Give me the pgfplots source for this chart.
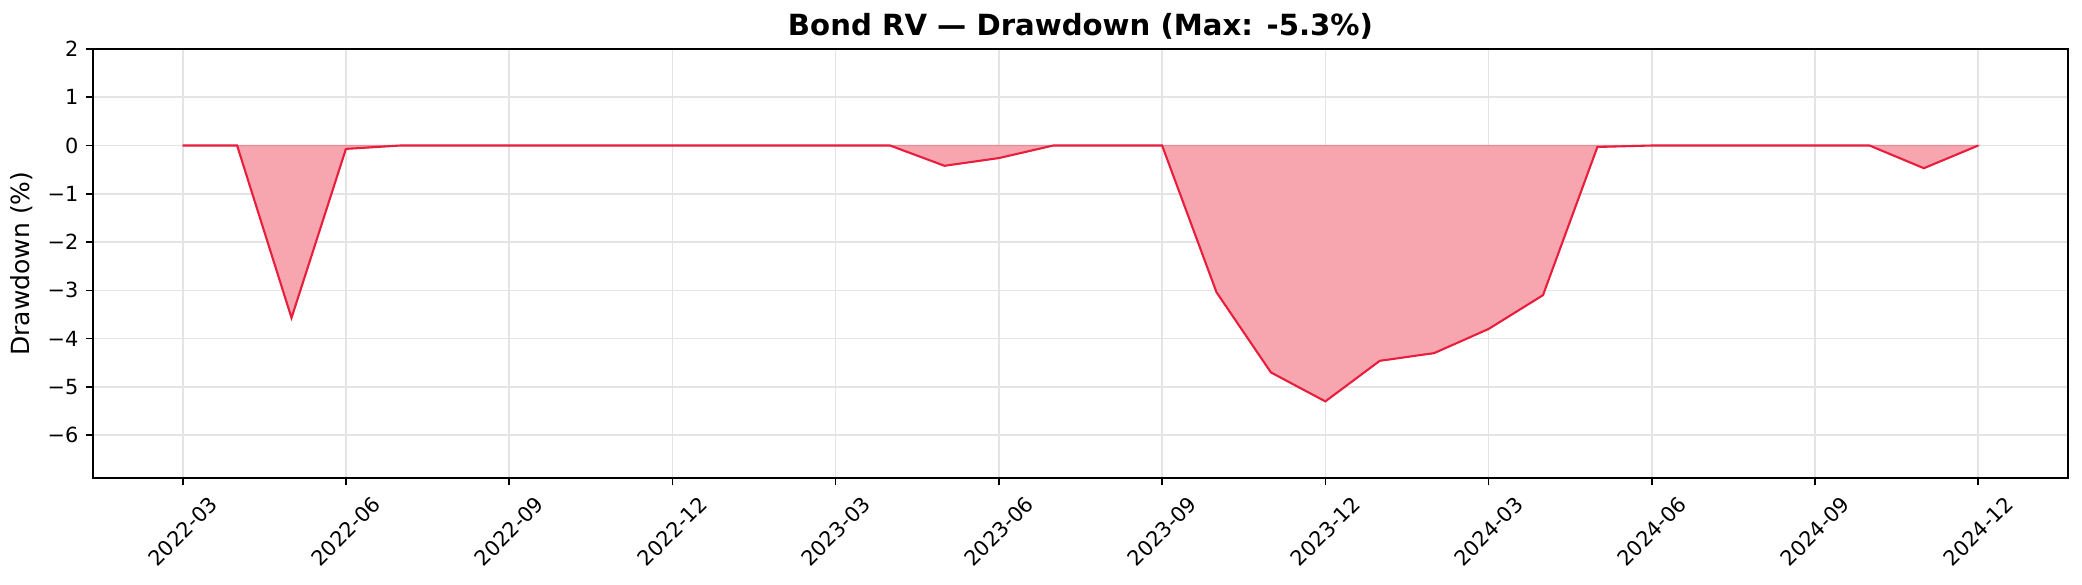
\documentclass[border=0pt]{standalone}
\usepackage{fontspec}
\setmainfont{DejaVu Sans}
\usepackage{pgfplots}
\pgfplotsset{compat=1.18}

\definecolor{ddline}{RGB}{232,30,60}
\definecolor{ddfill}{RGB}{247,166,176}
\definecolor{ddedge}{RGB}{228,140,152}
\definecolor{gridgray}{RGB}{228,228,228}

\begin{document}
\begin{tikzpicture}
\begin{axis}[
  scale only axis,
  width=948pt, height=206pt,
  xmin=-1.65, xmax=34.65,
  ymin=-6.89, ymax=2,
  xtick={0,3,...,33},
  xticklabels={2022-03,2022-06,2022-09,2022-12,2023-03,2023-06,2023-09,2023-12,2024-03,2024-06,2024-09,2024-12},
  ytick={-6,-5,...,2},
  yticklabels={−6,−5,−4,−3,−2,−1,0,1,2},
  xtick pos=bottom, ytick pos=left,
  tick align=outside,
  major tick length=3.5pt,
  tick style={black, line width=0.8pt},
  axis line style={black, line width=0.9pt},
  xmajorgrids=true, ymajorgrids=true,
  major grid style={gridgray, line width=0.8pt},
  tick label style={font=\fontsize{10}{12}\selectfont},
  xticklabel style={anchor=center, yshift=-22pt, rotate=45},
  ylabel={Drawdown (\%)},
  ylabel style={font=\fontsize{12}{14}\selectfont},
  title={Bond RV — Drawdown (Max: -5.3\%)},
  title style={font=\bfseries\fontsize{14}{16}\selectfont, at={(0.5,1)}, anchor=base, yshift=0.5pt},
]
\addplot[fill=ddfill, draw=ddedge, line width=0.6pt] coordinates {
(0,0) (1,0) (2,-3.57) (3,-0.07) (4,0) (5,0) (6,0) (7,0) (8,0) (9,0)
(10,0) (11,0) (12,0) (13,0) (14,-0.42) (15,-0.26) (16,0) (17,0) (18,0)
(19,-3.04) (20,-4.70) (21,-5.30) (22,-4.46) (23,-4.30) (24,-3.80) (25,-3.10)
(26,-0.03) (27,0) (28,0) (29,0) (30,0) (31,0) (32,-0.47) (33,0)
} \closedcycle;
\addplot[ddline, line width=1pt, mark=none] coordinates {
(0,0) (1,0) (2,-3.57) (3,-0.07) (4,0) (5,0) (6,0) (7,0) (8,0) (9,0)
(10,0) (11,0) (12,0) (13,0) (14,-0.42) (15,-0.26) (16,0) (17,0) (18,0)
(19,-3.04) (20,-4.70) (21,-5.30) (22,-4.46) (23,-4.30) (24,-3.80) (25,-3.10)
(26,-0.03) (27,0) (28,0) (29,0) (30,0) (31,0) (32,-0.47) (33,0)
};
\end{axis}
\path ([xshift=-44.6pt,yshift=-51pt]current axis.south west) rectangle ([xshift=6.7pt,yshift=23.5pt]current axis.north east);
\end{tikzpicture}
\end{document}
